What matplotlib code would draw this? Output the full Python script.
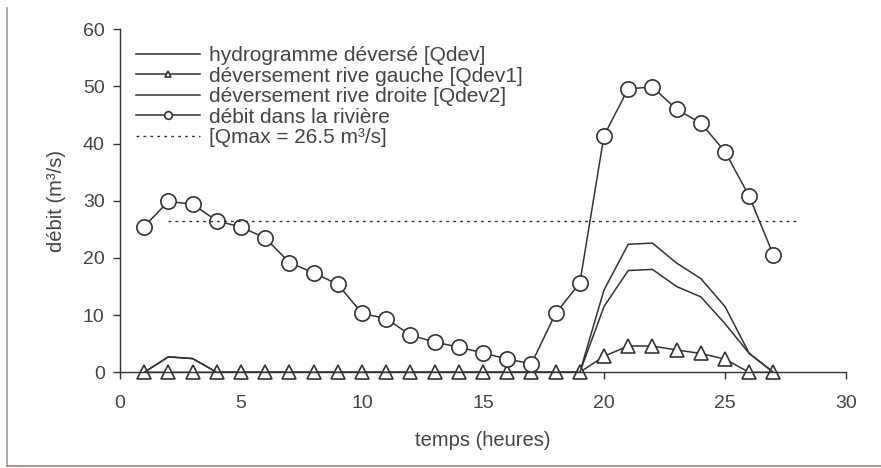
import matplotlib.pyplot as plt
from matplotlib.lines import Line2D

plt.rcParams['font.family'] = ['Liberation Sans', 'DejaVu Sans']

# --- Données ---
heures = list(range(1, 28))
qdev = [0, 2.7, 2.4, 0, 0, 0, 0, 0, 0, 0, 0, 0, 0, 0, 0, 0, 0, 0, 0,
        14.4, 22.4, 22.6, 19.1, 16.4, 11.5, 3.3, 0]
qdev1 = [0, 0, 0, 0, 0, 0, 0, 0, 0, 0, 0, 0, 0, 0, 0, 0, 0, 0, 0,
         2.8, 4.6, 4.6, 3.9, 3.3, 2.3, 0, 0]
qdev2 = [0, 2.7, 2.4, 0, 0, 0, 0, 0, 0, 0, 0, 0, 0, 0, 0, 0, 0, 0, 0,
         11.5, 17.8, 18.0, 15.0, 13.2, 8.5, 3.3, 0]
riviere = [25.5, 29.9, 29.4, 26.5, 25.4, 23.5, 19.2, 17.4, 15.4, 10.3, 9.4, 6.5,
           5.3, 4.4, 3.4, 2.3, 1.5, 10.3, 15.6, 41.4, 49.6, 49.9, 46.0, 43.6,
           38.6, 30.8, 20.5]
qmax = 26.5
qmax_x = [2, 28]

couleur = "#333333"
texte = "#444444"

fig = plt.figure(figsize=(8.81, 4.68), dpi=100)
ax = fig.add_axes([0.1362, 0.2045, 0.8241, 0.7329])

ax.plot(heures, qdev, color=couleur, lw=1.1, label="hydrogramme déversé [Qdev]")
ax.plot(heures, qdev1, color=couleur, lw=1.1, marker="^", ms=9.5,
        mfc="white", mec=couleur, mew=1.2, clip_on=False,
        label="déversement rive gauche [Qdev1]")
ax.plot(heures, qdev2, color=couleur, lw=1.1, label="déversement rive droite [Qdev2]")
ax.plot(heures, riviere, color=couleur, lw=1.1, marker="o", ms=11,
        mfc="white", mec=couleur, mew=1.2, clip_on=False,
        label="débit dans la rivière")
ax.plot(qmax_x, [qmax, qmax], color=couleur, lw=1.0, linestyle=(0, (2, 3)),
        label="[Qmax = 26.5 m³/s]")

ax.set_xlim(0, 30)
ax.set_ylim(0, 60)
ax.set_xticks(range(0, 31, 5))
ax.set_yticks(range(0, 61, 10))

for s in ["top", "right"]:
    ax.spines[s].set_visible(False)
for s in ["left", "bottom"]:
    ax.spines[s].set_color(couleur)
    ax.spines[s].set_linewidth(1.0)

ax.tick_params(direction="out", length=5, width=1.0, color=couleur,
               labelsize=14, labelcolor=texte)
ax.tick_params(axis="x", pad=11)
ax.tick_params(axis="y", pad=6)
ax.set_xlabel("temps (heures)", fontsize=14.5, color=texte, labelpad=14)
ax.set_ylabel("débit (m³/s)", fontsize=14.5, color=texte, labelpad=12)

leg = ax.legend(loc="upper left", bbox_to_anchor=(0.01, 0.975), frameon=False,
                fontsize=15, handlelength=3.1, handletextpad=0.4,
                labelspacing=0.07, markerscale=0.5, borderaxespad=0)
for t in leg.get_texts():
    t.set_color(texte)

# cadre partiel autour de la figure
fig.add_artist(Line2D([0.0076, 0.0076], [0.983, 0.0043], color="#999999", lw=1.2))
fig.add_artist(Line2D([0.0076, 1.0], [0.0043, 0.0043], color="#a08080", lw=1.2))

fig.savefig("out.png", dpi=100)
